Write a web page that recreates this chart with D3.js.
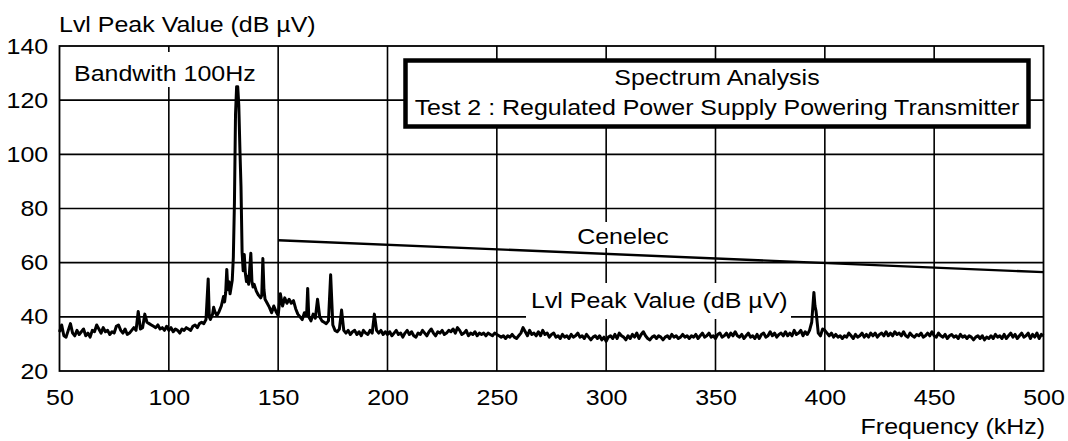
<!DOCTYPE html>
<html><head><meta charset="utf-8">
<script src="https://cdn.jsdelivr.net/npm/d3@7"></script>
<style>
html,body{margin:0;padding:0;background:#fff;}
svg{display:block;}
text{font-family:"Liberation Sans",Arial,Helvetica,sans-serif;fill:#000;}
</style></head>
<body><svg id="c" width="1068" height="441"></svg>
<script>
// ---- data ----
const xTicks = [50,100,150,200,250,300,350,400,450,500];
const yTicks = [20,40,60,80,100,120,140];
const yTitle = "Lvl Peak Value (dB µV)";
const xTitle = "Frequency (kHz)";
const titleLines = ["Spectrum Analysis","Test 2 : Regulated Power Supply Powering Transmitter"];
const bandwidthLabel = "Bandwith 100Hz";
const limitLabel = "Cenelec";
const traceLabel = "Lvl Peak Value (dB µV)";
const cenelec = [[150,68.3],[500,56.5]];
const spectrum = [
[50,34.4],[51,37],[52,33],[53,32.5],[54,35],[55,37.5],[56,34],[57,33],[58,35],[59,33.5],
[60,34.5],[61,35.5],[62,33],[63,34],[64,32.5],[65,35],[66,34.5],[67,37],[68,35.5],[69,34],
[70,36],[71,34.5],[72,35],[73,33.5],[74,34.5],[75,34],[76,36.5],[77,37],[78,35],[79,34],
[80,35.5],[81,33.5],[82,34],[83,35],[84,36],[85,35],[86,42],[87,35.5],[88,36],[89,41],
[90,38],[91,37.5],[92,37],[93,36.5],[94,36],[95,37],[96,35.5],[97,36],[98,35],[99,36.5],
[100,35],[101,36],[102,34.5],[103,35.5],[104,35],[105,34],[106,35.5],[107,35],[108,36],[109,35.5],
[110,35],[111,36.5],[112,37],[113,36],[114,37.5],[115,38],[116,37.5],[117,39],[118,54],[118.5,40],
[119,39],[120,41],[120.5,43.5],[121,42],[122,40.5],[123,42],[124,44],[125,47.5],[125.5,45.5],[126,49],
[126.5,57.5],[127,50],[127.5,53],[128,48.5],[128.5,51],[129,53.5],[129.5,62],[130,82],[130.5,115],[131,125],
[131.5,125],[132,118],[132.5,102],[133,88],[133.5,64],[134,57],[134.5,63],[135,56],[135.5,53],[136,55],
[136.5,52],[137,58],[137.5,63.5],[138,53],[138.5,51],[139,52],[140,49.5],[141,48],[142,47],[142.5,48],
[143,61.5],[143.5,50],[144,46.5],[145,45],[146,43.5],[147,41.5],[148,44],[149,42],[150,40.5],[151,48.5],
[152,44],[153,47],[154,45],[155,46.5],[156,45],[157,46],[158,43],[159,41],[160,40],[161,39],
[162,41.5],[163,40.5],[163.5,50.5],[164,40],[165,38.5],[166,41],[167,39.5],[168,46.5],[169,40],[170,38.5],
[171,38],[172,37.5],[173,38.5],[174,55.5],[175,37],[176,35],[177,34.5],[178,35.5],[179,42.5],[180,35],
[181,34],[182,35],[183,33.5],[184,34.5],[185,35],[186,33.5],[187,34.5],[188,33],[189,35],[190,34],
[191,33.5],[192,35],[193,34],[194,41],[195,35],[196,34],[197,35],[198,33.5],[199,34.5],[200,33.5],
[201,34.5],[202,33],[203,34],[204,35],[205,33.5],[206,34],[207,32.5],[208,34],[209,35],[210,33.5],
[211,34.5],[212,33],[213,32.5],[214,34],[215,33.5],[216,35],[217,34],[218,33],[219,34.5],[220,35.5],
[221,34],[222,33],[223,34.5],[224,34],[225,35],[226,33.5],[227,34],[228,35],[229,34.5],[230,35.5],
[231,34],[232,36],[233,35],[234,33.5],[235,34],[236,35],[237,33],[238,34],[239,33.5],[240,34.5],
[241,33],[242,34],[243,33.5],[244,34],[245,33],[246,34],[247,33.5],[248,33],[249,34],[250,33.5],
[251,33],[252,32.5],[253,33],[254,32],[255,33],[256,32.5],[257,33.5],[258,32.5],[259,32],[260,33],
[261,34],[262,36],[263,34.5],[264,33],[265,35],[266,33.5],[267,34],[268,33],[269,34.5],[270,33],
[271,35],[272,33.5],[273,34],[274,32.5],[275,33.5],[276,34],[277,32.5],[278,33],[279,32],[280,33.5],
[281,32.5],[282,33],[283,32],[284,33.5],[285,32.5],[286,33],[287,34],[288,32.5],[289,33],[290,32],
[291,33.5],[292,32.5],[293,31.5],[294,32.5],[295,33],[296,32],[297,33],[298,31.5],[299,32.5],[300,31],
[301,32.5],[302,33],[303,32],[304,33.5],[305,32],[306,34],[307,33],[308,32.5],[309,31.5],[310,33],
[311,32],[312,33.5],[313,32.5],[314,34],[315,32],[316,33.5],[317,34.5],[318,33],[319,32],[320,31.5],
[321,32.5],[322,33],[323,32],[324,33],[325,32.5],[326,31.5],[327,32.5],[328,33],[329,32],[330,33.5],
[331,32.5],[332,33],[333,32],[334,32.5],[335,33.5],[336,32.5],[337,33],[338,32],[339,33],[340,32.5],
[341,33.5],[342,32],[343,33],[344,34],[345,32.5],[346,33],[347,34],[348,32.5],[349,33],[350,32],
[351,33.5],[352,34],[353,32.5],[354,33],[355,34],[356,32.5],[357,34],[358,33],[359,34.5],[360,33],
[361,32.5],[362,33.5],[363,32],[364,33],[365,34],[366,32.5],[367,33],[368,32],[369,33.5],[370,32],
[371,33.5],[372,34],[373,32.5],[374,33],[375,34.5],[376,33],[377,34],[378,32.5],[379,33.5],[380,34],
[381,33],[382,34.5],[383,33],[384,34],[385,33],[386,35],[387,33.5],[388,34],[389,35],[390,33],
[391,34.5],[392,33.5],[393,35],[394,38],[395,49],[395.5,44],[396,42],[397,34],[398,33],[399,35.5],
[400,35],[401,34],[402,33],[403,34],[404,32.5],[405,33.5],[406,32.5],[407,33],[408,32],[409,33],
[410,32.5],[411,34],[412,33],[413,32],[414,33.5],[415,32.5],[416,33],[417,34],[418,32.5],[419,33.5],
[420,32.5],[421,34],[422,33],[423,34],[424,32.5],[425,33.5],[426,34],[427,33],[428,34.5],[429,33],
[430,34],[431,33],[432,34.5],[433,33.5],[434,34],[435,33],[436,34.5],[437,33],[438,32.5],[439,34],
[440,33],[441,32.5],[442,33.5],[443,33],[444,34],[445,32.5],[446,33],[447,34],[448,33],[449,34.5],
[450,33],[451,32.5],[452,34],[453,33],[454,32.5],[455,33.5],[456,32],[457,33],[458,33.5],[459,32.5],
[460,33],[461,32],[462,33.5],[463,32.5],[464,33],[465,32],[466,33],[467,32.5],[468,31.5],[469,32.5],
[470,33],[471,32],[472,33],[473,31.5],[474,32.5],[475,32],[476,33],[477,32],[478,33.5],[479,32.5],
[480,33],[481,32],[482,33.5],[483,32],[484,33],[485,34],[486,32.5],[487,33.5],[488,32],[489,33],
[490,34],[491,32.5],[492,33],[493,34],[494,32],[495,33.5],[496,32.5],[497,34],[498,32],[499,33.5],[500,33]
];

// ---- layout ----
const L = 59.5, R = 1043.5, T = 46, B = 371;
const SX = 1.135, FS = 22;
const svg = d3.select("#c");
const x = d3.scaleLinear().domain([50,500]).range([L,R]);
const y = d3.scaleLinear().domain([20,140]).range([B,T]);

function label(g, txt, px, py, anchor, fs){
  return g.append("text")
    .attr("transform", `translate(${px},${py}) scale(${SX},1)`)
    .attr("text-anchor", anchor || "start")
    .style("font-size", (fs||FS)+"px")
    .text(txt);
}

// grid
const grid = svg.append("g").attr("stroke","#000").attr("stroke-width",1.6);
grid.selectAll("line.v").data(xTicks.slice(1,-1)).join("line")
  .attr("x1",d=>x(d)).attr("x2",d=>x(d)).attr("y1",T).attr("y2",B);
grid.selectAll("line.h").data(yTicks.slice(1,-1)).join("line")
  .attr("x1",L).attr("x2",R).attr("y1",d=>y(d)).attr("y2",d=>y(d));

// axes (labels only)
const xa = svg.append("g").attr("transform",`translate(0,${B})`)
  .call(d3.axisBottom(x).tickValues(xTicks).tickSize(0).tickPadding(18.5).tickFormat(d3.format("d")));
xa.select(".domain").remove();
xa.selectAll("text").attr("font-family",null).attr("font-size",null)
  .style("font-size",FS+"px").attr("transform",`scale(${SX},1)`);
const ya = svg.append("g").attr("transform",`translate(${L},0)`)
  .call(d3.axisLeft(y).tickValues(yTicks).tickSize(0).tickPadding(10).tickFormat(d3.format("d")));
ya.select(".domain").remove();
ya.selectAll("text").attr("font-family",null).attr("font-size",null)
  .style("font-size",FS+"px").attr("transform",`scale(${SX},1)`);

// in-plot labels with white backgrounds
const lab = svg.append("g");
lab.append("rect").attr("x",66).attr("y",52).attr("width",200).attr("height",35).attr("fill","#fff");
label(lab, bandwidthLabel, 74, 80.5);
lab.append("rect").attr("x",575).attr("y",222).attr("width",97).attr("height",26).attr("fill","#fff");
label(lab, limitLabel, 623, 243.5, "middle");
lab.append("rect").attr("x",526).attr("y",283).attr("width",265).attr("height",36).attr("fill","#fff");
label(lab, traceLabel, 531, 307.5);

// Cenelec limit
svg.append("path").datum(cenelec)
  .attr("d", d3.line().x(d=>x(d[0])).y(d=>y(d[1])))
  .attr("fill","none").attr("stroke","#000").attr("stroke-width",2.4);

// spectrum trace
svg.append("path").datum(spectrum)
  .attr("d", d3.line().x(d=>x(d[0])).y(d=>y(d[1])))
  .attr("fill","none").attr("stroke","#000").attr("stroke-width",3)
  .attr("stroke-linejoin","round");

// frame
svg.append("rect").attr("x",L).attr("y",T).attr("width",R-L).attr("height",B-T)
  .attr("fill","none").attr("stroke","#000").attr("stroke-width",1.8);

// title box
const tb = svg.append("g");
tb.append("rect").attr("x",405.5).attr("y",60.5).attr("width",623).attr("height",66)
  .attr("fill","#fff").attr("stroke","#000").attr("stroke-width",4.5);
label(tb, titleLines[0], 717, 85, "middle");
label(tb, titleLines[1], 717, 114.5, "middle");

// axis titles
label(svg, yTitle, 59, 31.5);
label(svg, xTitle, 1045, 433.5, "end");
</script></body></html>
